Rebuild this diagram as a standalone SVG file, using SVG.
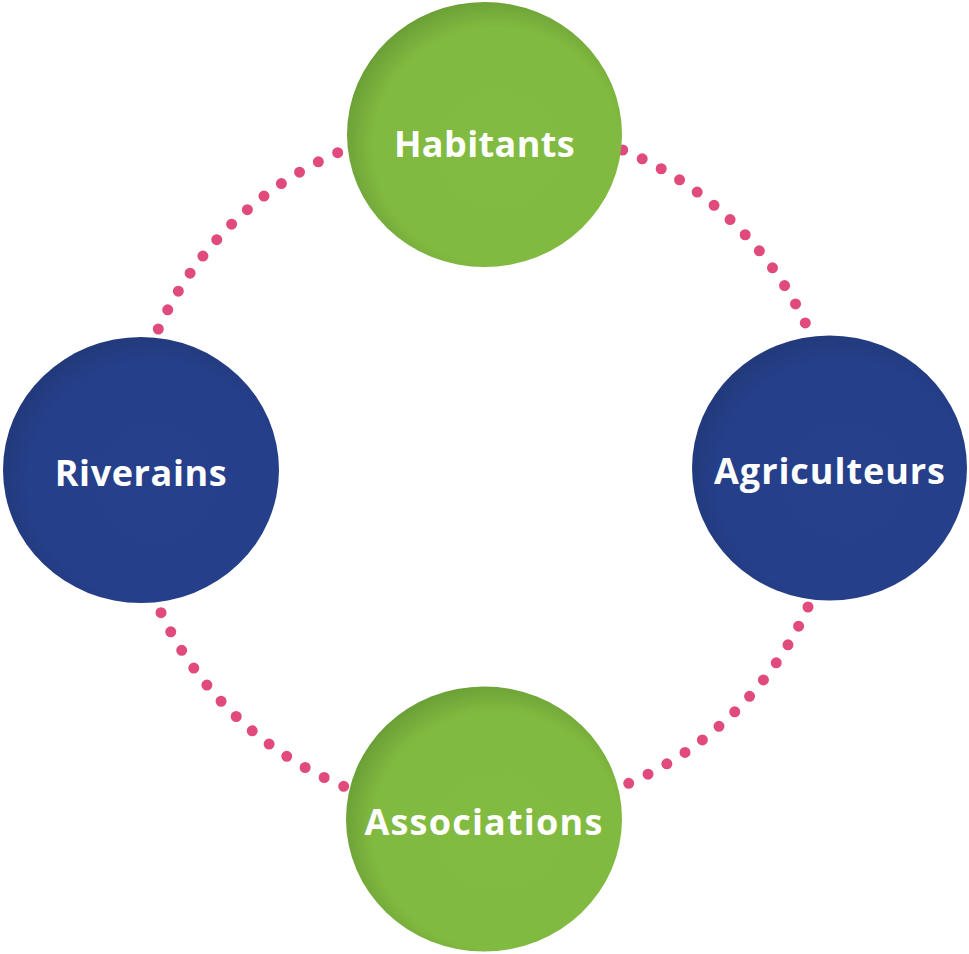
<svg xmlns="http://www.w3.org/2000/svg" width="969" height="954" viewBox="0 0 969 954">
  <defs>
    <radialGradient id="gGreen" cx="0.54" cy="0.54" r="0.56" fx="0.56" fy="0.56">
      <stop offset="0" stop-color="#82bb41"/>
      <stop offset="0.8" stop-color="#81ba40"/>
      <stop offset="1" stop-color="#6a9e36"/>
    </radialGradient>
    <radialGradient id="gBlue" cx="0.54" cy="0.54" r="0.56" fx="0.56" fy="0.56">
      <stop offset="0" stop-color="#26408b"/>
      <stop offset="0.8" stop-color="#253f8a"/>
      <stop offset="1" stop-color="#22397a"/>
    </radialGradient>
  </defs>
  <style>
    .dots { fill: none; stroke: #e14b7c; stroke-width: 11; stroke-linecap: round; stroke-dasharray: 0 1; }
    .green { fill: url(#gGreen); }
    .blue { fill: url(#gBlue); }
    .label { font-family: "Open Sans", "DejaVu Sans", sans-serif; font-weight: 700; font-size: 36px; fill: #ffffff; text-anchor: middle; }
  </style>
  <rect width="969" height="954" fill="#ffffff"/>
  <g id="connectors">
    <path class="dots" pathLength="12.001" d="M158.3,329 A352,348 0 0 1 337.7,152.7"/>
    <path class="dots" pathLength="12.001" d="M622.7,150 A352,348 0 0 1 805.3,323"/>
    <path class="dots" pathLength="12.001" d="M808,607 A352,348 0 0 1 628.7,783.3"/>
    <path class="dots" pathLength="12.001" d="M343.7,786.3 A352,348 0 0 1 161,612.7"/>
  </g>
  <g id="node-habitants">
    <ellipse class="green" cx="484.5" cy="134.5" rx="137.5" ry="132.5"/>
    <text class="label" x="484.5" y="157" letter-spacing="0.4">Habitants</text>
  </g>
  <g id="node-riverains">
    <ellipse class="blue" cx="141" cy="470" rx="138" ry="133"/>
    <text class="label" x="141" y="486" letter-spacing="0.6">Riverains</text>
  </g>
  <g id="node-agriculteurs">
    <ellipse class="blue" cx="829.5" cy="468" rx="137.5" ry="132.5"/>
    <text class="label" x="830" y="484" letter-spacing="0.95">Agriculteurs</text>
  </g>
  <g id="node-associations">
    <ellipse class="green" cx="484" cy="819" rx="138" ry="132.5"/>
    <text class="label" x="484" y="835" letter-spacing="1.2">Associations</text>
  </g>
</svg>
